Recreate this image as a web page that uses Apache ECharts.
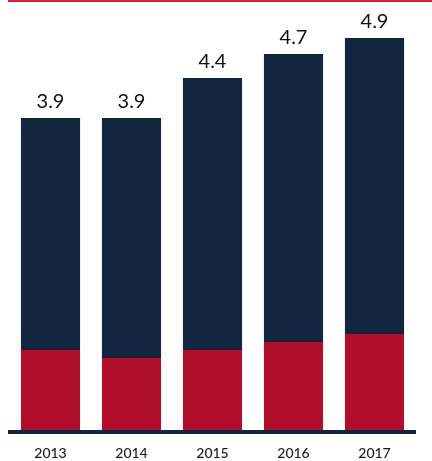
<!DOCTYPE html>
<html>
<head>
<meta charset="utf-8">
<style>
  html, body { margin: 0; padding: 0; background: #fff; }
  #chart { width: 432px; height: 461px; }
</style>
<script src="https://cdn.jsdelivr.net/npm/echarts@6/dist/echarts.min.js"></script>
</head>
<body>
<div id="chart"></div>
<script>
// Yearly figures, split into the lower (red) and upper (navy) segments
const years = ['2013', '2014', '2015', '2016', '2017'];
const lowerPart = [1.0, 0.9, 1.0, 1.1, 1.2];
const upperPart = [2.9, 3.0, 3.4, 3.6, 3.7];
const totals = [3.9, 3.9, 4.4, 4.7, 4.9];

const NAVY = '#14253f';
const RED = '#b00f2c';
const FONT = 'Lato, "Open Sans", sans-serif';

const chart = echarts.init(document.getElementById('chart'), null, { renderer: 'canvas' });

chart.setOption({
  animation: false,
  backgroundColor: '#ffffff',
  graphic: [
    // thin rule across the top
    { type: 'rect', left: 8, top: 0, shape: { width: 424, height: 2 }, style: { fill: '#d2202e' } },
    // baseline slightly wider than the plot area
    { type: 'rect', left: 8, top: 430, shape: { width: 408, height: 4 }, style: { fill: NAVY }, z: 10 }
  ],
  grid: { left: 10, right: 17, top: 30, bottom: 31, containLabel: false },
  xAxis: {
    type: 'category',
    data: years,
    axisTick: { show: false },
    axisLine: { show: false },
    axisLabel: { color: '#1a1a1a', fontSize: 14, fontFamily: FONT, fontWeight: 500, margin: 16 }
  },
  yAxis: {
    type: 'value',
    min: 0,
    max: 5,
    show: false,
    splitLine: { show: false }
  },
  series: [
    {
      name: 'lower',
      type: 'bar',
      stack: 'total',
      data: lowerPart,
      barCategoryGap: '27%',
      itemStyle: { color: RED }
    },
    {
      name: 'upper',
      type: 'bar',
      stack: 'total',
      data: upperPart,
      itemStyle: { color: NAVY },
      label: {
        show: true,
        position: 'top',
        distance: 6,
        color: '#111',
        fontSize: 20,
        fontFamily: FONT,
        formatter: (p) => totals[p.dataIndex].toFixed(1)
      }
    }
  ]
});
</script>
</body>
</html>
